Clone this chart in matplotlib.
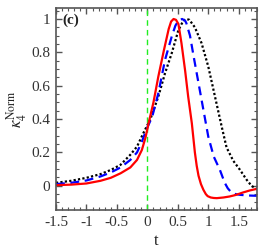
import matplotlib
matplotlib.use("Agg")
import matplotlib.pyplot as plt
from matplotlib.ticker import MultipleLocator

plt.rcParams['font.family'] = ['Liberation Serif', 'DejaVu Serif']
plt.rcParams['mathtext.fontset'] = 'stix'

red_t = [-1.5, -1.25, -1.0, -0.77, -0.6, -0.44, -0.28, -0.17, -0.09, -0.03, 0.02, 0.10, 0.18, 0.27,
         0.35, 0.39, 0.43, 0.47, 0.51, 0.56, 0.62, 0.67, 0.73, 0.78, 0.81, 0.84, 0.88, 0.92, 0.96,
         0.99, 1.04, 1.09, 1.14, 1.25, 1.35, 1.45, 1.57, 1.68, 1.8]
red_v = [0.004, 0.007, 0.014, 0.03, 0.048, 0.075, 0.11, 0.155, 0.215, 0.29, 0.375, 0.5, 0.655, 0.81,
         0.94, 0.985, 1.0, 0.995, 0.97, 0.855, 0.69, 0.535, 0.375, 0.2, 0.12, 0.06, 0.01, -0.024, -0.05,
         -0.062, -0.07, -0.073, -0.074, -0.07, -0.064, -0.055, -0.04, -0.028, -0.018]

blue_t = [-1.5, -1.25, -1.0, -0.77, -0.6, -0.44, -0.28, -0.17, -0.09, 0.0, 0.08, 0.18, 0.29, 0.4,
          0.46, 0.51, 0.57, 0.62, 0.64, 0.70, 0.76, 0.84, 0.92, 1.0, 1.09, 1.19, 1.27, 1.32, 1.38,
          1.45, 1.52, 1.65, 1.8]
blue_v = [0.01, 0.018, 0.032, 0.056, 0.08, 0.11, 0.155, 0.2, 0.265, 0.35, 0.415, 0.555, 0.755, 0.895,
          0.96, 0.99, 1.0, 0.99, 0.975, 0.9, 0.775, 0.615, 0.455, 0.295, 0.175, 0.096, 0.018, -0.015,
          -0.04, -0.05, -0.054, -0.058, -0.06]

black_t = [-1.5, -1.25, -1.0, -0.77, -0.6, -0.44, -0.28, -0.17, -0.06, 0.05, 0.18, 0.29, 0.4, 0.51,
           0.59, 0.64, 0.69, 0.78, 0.89, 1.0, 1.11, 1.22, 1.30, 1.41, 1.52, 1.63, 1.71, 1.8]
black_v = [0.018, 0.03, 0.048, 0.07, 0.095, 0.126, 0.186, 0.235, 0.32, 0.4, 0.535, 0.675, 0.795, 0.934,
           0.99, 1.0, 0.995, 0.95, 0.855, 0.715, 0.535, 0.355, 0.23, 0.15, 0.096, 0.036, 0.0, -0.022]

vline_t = 0.0

x_ticks = [-1.5, -1.0, -0.5, 0.0, 0.5, 1.0, 1.5]
x_tick_labels = ['-1.5', '-1', '-0.5', '0', '0.5', '1', '1.5']
y_ticks = [0, 0.2, 0.4, 0.6, 0.8, 1.0]
y_tick_labels = ['0', '0.2', '0.4', '0.6', '0.8', '1']

fig = plt.figure(figsize=(2.66, 2.52), dpi=100)
ax = fig.add_axes([0.2105, 0.1667, 0.7557, 0.8016])

ax.axvline(vline_t, color='#22ee22', lw=1.0, ls=(0, (4, 3)))
ax.plot(black_t, black_v, color='black', lw=1.6, ls=(0, (1, 1)))
ax.plot(blue_t, blue_v, color='#0000ff', lw=1.6, ls=(0, (4, 2.5)))
ax.plot(red_t, red_v, color='#ff0000', lw=1.6, ls='-')

ax.set_xlim(-1.5, 1.8)
ax.set_ylim(-0.145, 1.066)
ax.set_xticks(x_ticks)
ax.set_xticklabels(x_tick_labels)
ax.set_yticks(y_ticks)
ax.set_yticklabels(y_tick_labels)
ax.xaxis.set_minor_locator(MultipleLocator(0.1))
ax.yaxis.set_minor_locator(MultipleLocator(0.05))

frame = '#555555'
for s in ax.spines.values():
    s.set_color(frame)
    s.set_linewidth(1.2)
ax.tick_params(which='both', direction='in', top=True, right=True, color=frame,
               labelsize=11, labelcolor='#333333', pad=4)
ax.tick_params(which='major', length=4.5, width=1.0)
ax.tick_params(which='minor', length=2.5, width=0.8)

ax.set_xlabel('t', fontsize=12, labelpad=3, color='#222222')
ax.set_ylabel(r'$\kappa_4^{\rm Norm}$', fontsize=12, labelpad=2, color='#222222')
ax.text(0.03, 0.975, '(c)', transform=ax.transAxes, fontsize=11, fontweight='bold',
        va='top', ha='left', color='#222222')

fig.savefig('out.png', dpi=100)
